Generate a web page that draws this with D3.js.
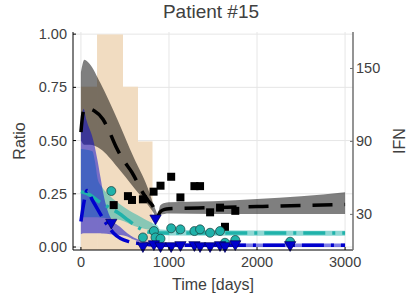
<!doctype html>
<html>
  <head>
    <script src="https://d3js.org/d3.v7.min.js"></script>
    <style>
      body { margin: 0; background: #fff; }
      text { font-family: "Liberation Sans", Arial, sans-serif; fill: #404040; }
    </style>
  </head>
  <body>
    <script>
    // ---- data ----
    var xTicks = [0, 1000, 2000, 3000];
    var yTicks = [0, 0.25, 0.5, 0.75, 1.0];
    var ifnTicks = [30, 90, 150];

    // IFN dose steps (right axis)
    var ifnEdges = [0, 183, 478, 648, 813];
    var ifnValues = [135, 178, 135, 90];

    // black model + ribbon
    var grayDays = [0, 40, 100, 221, 413, 600, 757, 825, 862, 870, 900, 950, 1000, 1500, 2000, 2500, 3000];
    var grayHi = [0.82, 0.88, 0.86, 0.77, 0.60, 0.42, 0.28, 0.20, 0.16, 0.15, 0.195, 0.207, 0.21, 0.215, 0.225, 0.238, 0.257];
    var grayLo = [0.50, 0.48, 0.48, 0.46, 0.376, 0.28, 0.20, 0.16, 0.13, 0.13, 0.15, 0.155, 0.157, 0.155, 0.155, 0.155, 0.155];
    var blackDays = [0, 20, 40, 100, 150, 250, 330, 400, 480, 580, 710, 760, 830, 862, 870, 900, 950, 1000, 1500, 2000, 2500, 3000];
    var blackLine = [0.54, 0.62, 0.65, 0.648, 0.64, 0.6, 0.535, 0.47, 0.41, 0.35, 0.25, 0.22, 0.18, 0.135, 0.14, 0.165, 0.177, 0.18, 0.185, 0.19, 0.195, 0.2];

    // teal model + ribbon
    var tealDays = [0, 130, 160, 190, 243, 330, 447, 640, 820, 870, 900, 1000, 2000, 3000];
    var tealHi = [0.46, 0.45, 0.40, 0.32, 0.28, 0.24, 0.20, 0.15, 0.11, 0.10, 0.082, 0.08, 0.078, 0.077];
    var tealLo = [0.14, 0.14, 0.14, 0.14, 0.138, 0.135, 0.127, 0.094, 0.078, 0.075, 0.056, 0.054, 0.053, 0.053];
    var tealLineDays = [0, 100, 183, 300, 427, 540, 640, 750, 870, 1000, 3000];
    var tealLine = [0.26, 0.245, 0.22, 0.19, 0.16, 0.125, 0.095, 0.072, 0.066, 0.066, 0.066];

    // blue model + ribbon
    var blueDays = [0, 30, 60, 141, 187, 221, 255, 334, 447, 527, 600, 700, 870, 1000, 3000];
    var blueHi = [0.55, 0.65, 0.6, 0.5, 0.41, 0.33, 0.25, 0.14, 0.094, 0.065, 0.045, 0.03, 0.02, 0.018, 0.017];
    var blueLo = [0.06, 0.065, 0.065, 0.065, 0.065, 0.065, 0.063, 0.06, 0.057, 0.05, 0.035, 0.02, 0.005, 0.0, 0.0];
    var blueLineDays = [0, 30, 70, 130, 200, 280, 372, 450, 550, 700, 870, 1000, 3000];
    var blueLine = [0.12, 0.2, 0.265, 0.22, 0.17, 0.115, 0.065, 0.04, 0.025, 0.015, 0.008, 0.008, 0.008];

    // measurements
    var squareDays = [372, 534, 580, 704, 825, 904, 1025, 1130, 1289, 1353, 1467, 1580, 1636, 1753];
    var squareVals = [0.197, 0.239, 0.221, 0.224, 0.26, 0.288, 0.33, 0.233, 0.286, 0.286, 0.163, 0.185, 0.095, 0.17];
    var circleDays = [345, 704, 829, 847, 904, 1025, 1130, 1289, 1353, 1467, 1580, 1636, 1753, 2376];
    var circleVals = [0.263, 0.045, 0.075, 0.045, 0.039, 0.088, 0.083, 0.075, 0.083, 0.067, 0.075, 0.02, 0.033, 0.025];
    var triDays = [345, 704, 829, 847, 904, 1025, 1130, 1289, 1353, 1467, 1580, 1636, 1753, 2376];
    var triVals = [0.115, 0.005, 0.014, 0.135, 0.005, 0.005, 0.01, 0.01, 0.005, 0.005, 0.01, 0.005, 0.014, 0.01];

    var width = 420;
    var height = 300;
    var plot = { left: 73, right: 353, top: 32, bottom: 250 };

    var svg = d3.select("body")
              .append("svg")
              .attr("width", width)
              .attr("height", height);

    var x = d3.scaleLinear().domain([-90, 3090]).range([plot.left, plot.right]);
    var y = d3.scaleLinear().domain([-0.014, 1.01]).range([plot.bottom, plot.top]);
    var yIfn = d3.scaleLinear().domain([0.7, 180]).range([plot.bottom, plot.top]);

    svg.append("clipPath").attr("id", "clip")
      .append("rect")
        .attr("x", plot.left).attr("y", plot.top)
        .attr("width", plot.right - plot.left).attr("height", plot.bottom - plot.top);

    // grid
    var grid = svg.append("g").attr("stroke", "#e6e6e6").attr("stroke-width", 1);
    xTicks.forEach(function(t) {
      grid.append("line").attr("x1", x(t)).attr("x2", x(t)).attr("y1", plot.top).attr("y2", plot.bottom);
    });
    yTicks.forEach(function(t) {
      grid.append("line").attr("x1", plot.left).attr("x2", plot.right).attr("y1", y(t)).attr("y2", y(t));
    });

    var g = svg.append("g").attr("clip-path", "url(#clip)");

    // IFN bars
    g.selectAll(".ifn")
      .data(ifnValues)
      .enter()
      .append("rect")
        .attr("class", "ifn")
        .attr("x", function(d, i) { return x(ifnEdges[i]); })
        .attr("width", function(d, i) { return x(ifnEdges[i + 1]) - x(ifnEdges[i]); })
        .attr("y", function(d) { return yIfn(d); })
        .attr("height", function(d) { return yIfn(0) - yIfn(d); })
        .attr("fill", "#f1dcc1");

    function ribbon(days, lo, hi, color) {
      var area = d3.area()
        .x(function(d, i) { return x(days[i]); })
        .y0(function(d, i) { return y(lo[i]); })
        .y1(function(d, i) { return y(hi[i]); })
        .curve(d3.curveMonotoneX);
      g.append("path")
        .datum(days)
        .attr("fill", color)
        .attr("fill-opacity", 0.5)
        .attr("d", area);
    }

    function curve(days, vals, color, dash) {
      var line = d3.line()
        .x(function(d, i) { return x(days[i]); })
        .y(function(d, i) { return y(vals[i]); })
        .curve(d3.curveMonotoneX);
      g.append("path")
        .datum(days)
        .attr("fill", "none")
        .attr("stroke", color)
        .attr("stroke-width", 3.5)
        .attr("stroke-dasharray", dash)
        .attr("d", line);
    }

    ribbon(grayDays, grayLo, grayHi, "#000000");
    ribbon(tealDays, tealLo, tealHi, "#20b2aa");
    ribbon(blueDays, blueLo, blueHi, "#0000cd");

    curve(blackDays, blackLine, "#000000", "20,12");
    curve(tealLineDays, tealLine, "#20b2aa", "22,7,3,7");
    curve(blueLineDays, blueLine, "#0000cd", "22,7,3,7");

    // markers
    svg.selectAll(".sq")
      .data(squareDays)
      .enter()
      .append("rect")
        .attr("class", "sq")
        .attr("x", function(d) { return x(d) - 4; })
        .attr("y", function(d, i) { return y(squareVals[i]) - 4; })
        .attr("width", 8).attr("height", 8)
        .attr("fill", "#000");

    svg.selectAll(".ci")
      .data(circleDays)
      .enter()
      .append("circle")
        .attr("class", "ci")
        .attr("cx", function(d) { return x(d); })
        .attr("cy", function(d, i) { return y(circleVals[i]); })
        .attr("r", 4.5)
        .attr("fill", "#20b2aa")
        .attr("stroke", "#1a3a3a")
        .attr("stroke-width", 0.7);

    var tri = d3.symbol().type(d3.symbolTriangle).size(55);
    svg.selectAll(".tr")
      .data(triDays)
      .enter()
      .append("path")
        .attr("class", "tr")
        .attr("d", tri)
        .attr("transform", function(d, i) { return "translate(" + x(d) + "," + y(triVals[i]) + ") rotate(180)"; })
        .attr("fill", "#0000cd")
        .attr("stroke", "#00005a")
        .attr("stroke-width", 0.7);

    // axes
    svg.append("line").attr("x1", plot.left).attr("x2", plot.left).attr("y1", plot.top).attr("y2", plot.bottom)
      .attr("stroke", "#000");
    svg.append("line").attr("x1", plot.left).attr("x2", plot.right).attr("y1", plot.bottom).attr("y2", plot.bottom)
      .attr("stroke", "#000");
    svg.append("line").attr("x1", plot.right).attr("x2", plot.right).attr("y1", plot.top).attr("y2", plot.bottom)
      .attr("stroke", "#707070").attr("stroke-width", 1.5);

    yTicks.forEach(function(t) {
      svg.append("line").attr("x1", plot.left).attr("x2", plot.left + 3).attr("y1", y(t)).attr("y2", y(t)).attr("stroke", "#000");
      svg.append("text")
        .attr("x", plot.left - 6).attr("y", y(t))
        .attr("text-anchor", "end").attr("dominant-baseline", "central")
        .style("font-size", "14.5px")
        .text(d3.format(".2f")(t));
    });
    xTicks.forEach(function(t) {
      svg.append("line").attr("x1", x(t)).attr("x2", x(t)).attr("y1", plot.bottom).attr("y2", plot.bottom - 3).attr("stroke", "#000");
      svg.append("text")
        .attr("x", x(t)).attr("y", 267)
        .attr("text-anchor", "middle")
        .style("font-size", "14.5px")
        .text(t);
    });
    ifnTicks.forEach(function(t) {
      svg.append("line").attr("x1", plot.right - 3).attr("x2", plot.right).attr("y1", yIfn(t)).attr("y2", yIfn(t)).attr("stroke", "#707070");
      svg.append("text")
        .attr("x", plot.right + 3).attr("y", yIfn(t))
        .attr("dominant-baseline", "central")
        .style("font-size", "14.5px")
        .text(t);
    });

    // labels
    svg.append("text")
      .attr("x", 211).attr("y", 18)
      .attr("text-anchor", "middle")
      .style("font-size", "19px")
      .text("Patient #15");

    svg.append("text")
      .attr("x", 213).attr("y", 290)
      .attr("text-anchor", "middle")
      .style("font-size", "16px")
      .text("Time [days]");

    svg.append("text")
      .attr("transform", "translate(25,141) rotate(-90)")
      .attr("text-anchor", "middle")
      .style("font-size", "16px")
      .text("Ratio");

    svg.append("text")
      .attr("transform", "translate(405,141) rotate(-90)")
      .attr("text-anchor", "middle")
      .style("font-size", "16px")
      .text("IFN");
    </script>
  </body>
</html>
